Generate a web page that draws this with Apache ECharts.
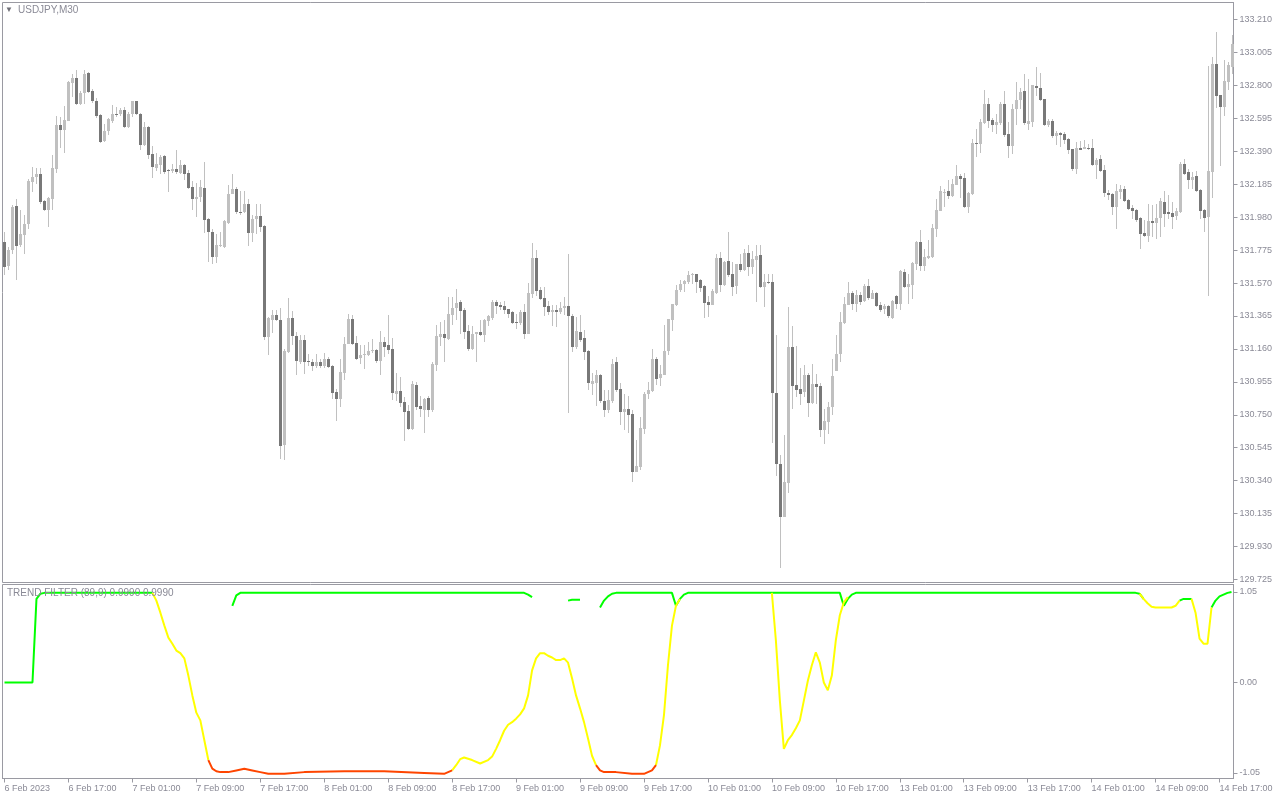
<!DOCTYPE html>
<html><head><meta charset="utf-8">
<script src="https://cdn.jsdelivr.net/npm/echarts@6/dist/echarts.min.js"></script>
<style>html,body{margin:0;padding:0;background:#fff}#c{width:1280px;height:800px}</style>
</head><body><div id="c"></div>
<script>
// ---- data (USDJPY M30, 6 Feb 09:00 .. 14 Feb 18:30) ----
const open = [131.826,131.674,131.774,132.047,131.805,131.867,131.935,132.198,132.229,132.246,132.078,132.022,132.095,132.279,132.551,132.520,132.578,132.814,132.845,132.686,132.752,132.876,132.768,132.700,132.613,132.451,132.516,132.578,132.619,132.619,132.650,132.540,132.619,132.700,132.623,132.426,132.540,132.370,132.288,132.306,132.358,132.273,132.267,132.279,132.254,132.302,132.252,132.167,132.093,132.105,132.161,131.966,131.885,131.732,131.803,131.795,131.945,132.126,132.153,132.012,132.012,132.060,131.883,131.966,131.987,131.925,131.234,131.338,131.369,131.338,130.561,131.141,131.353,131.239,131.079,131.214,131.083,131.077,131.052,131.077,131.052,131.096,131.052,130.891,130.849,131.011,131.193,131.344,131.195,131.102,131.123,131.121,131.148,131.152,131.085,131.201,131.183,131.158,130.878,130.897,130.828,130.774,130.660,130.934,130.803,130.779,130.855,130.779,131.058,131.235,131.251,131.224,131.369,131.415,131.452,131.400,131.270,131.158,131.251,131.264,131.245,131.334,131.353,131.452,131.432,131.425,131.407,131.390,131.326,131.322,131.388,131.251,131.504,131.724,131.525,131.475,131.425,131.390,131.400,131.388,131.413,131.425,131.363,131.172,131.266,131.228,131.148,130.940,130.949,130.996,130.837,130.779,130.837,131.079,130.913,130.768,130.789,130.754,130.395,130.426,130.660,130.878,130.897,131.096,130.978,130.996,131.145,131.338,131.432,131.525,131.562,131.577,131.622,131.624,131.587,131.550,131.452,131.436,131.508,131.724,131.556,131.705,131.624,131.552,131.687,131.649,131.759,131.670,131.716,131.743,131.546,131.575,131.575,130.886,130.443,130.115,130.327,131.172,130.934,130.913,130.893,130.998,130.824,130.944,130.928,130.654,130.706,130.799,131.023,131.131,131.322,131.436,131.508,131.442,131.494,131.456,131.550,131.473,131.508,131.432,131.407,131.425,131.353,131.488,131.438,131.639,131.546,131.556,131.687,131.825,131.676,131.726,131.732,131.904,132.018,132.133,132.141,132.112,132.182,132.234,132.224,132.043,132.122,132.441,132.433,132.566,132.682,132.582,132.551,132.566,132.682,132.495,132.420,132.651,132.707,132.763,132.561,132.572,132.794,132.783,132.713,132.551,132.576,132.485,132.503,132.495,132.464,132.402,132.282,132.408,132.404,132.410,132.408,132.302,132.340,132.271,132.132,132.122,132.043,132.137,132.153,132.085,132.037,132.022,131.975,131.884,131.863,131.954,131.944,131.975,132.074,132.012,132.008,131.985,132.012,132.309,132.261,132.213,132.234,132.147,132.022,131.981,132.261,132.935,132.738,132.665,132.821,132.914];
const high = [131.888,131.795,132.053,132.095,132.022,131.991,132.219,132.292,132.288,132.288,132.084,132.105,132.364,132.607,132.603,132.669,132.826,132.868,132.893,132.768,132.897,132.882,132.779,132.723,132.619,132.557,132.598,132.675,132.665,132.661,132.665,132.634,132.702,132.702,132.627,132.571,132.545,132.420,132.379,132.364,132.364,132.281,132.312,132.399,132.337,132.308,132.271,132.205,132.192,132.209,132.323,131.977,131.908,131.873,131.888,131.960,132.178,132.246,132.167,132.140,132.142,132.095,131.991,132.064,132.064,131.929,131.359,131.400,131.404,131.417,131.162,131.477,131.396,131.266,131.245,131.245,131.131,131.100,131.127,131.100,131.135,131.110,131.058,130.913,131.100,131.235,131.376,131.369,131.239,131.183,131.183,131.204,131.224,131.162,131.270,131.231,131.369,131.228,131.011,130.986,130.862,130.808,130.961,130.955,130.866,130.855,130.866,131.079,131.307,131.328,131.338,131.483,131.483,131.535,131.463,131.417,131.307,131.301,131.266,131.338,131.349,131.369,131.467,131.463,131.452,131.456,131.411,131.396,131.380,131.405,131.438,131.570,131.821,131.774,131.546,131.546,131.459,131.432,131.432,131.452,131.483,131.749,131.380,131.359,131.369,131.280,131.152,131.007,131.027,131.002,130.907,130.907,131.100,131.110,130.949,130.882,130.866,130.779,130.596,130.733,130.893,130.955,131.162,131.110,131.058,131.307,131.349,131.438,131.560,131.591,131.591,131.645,131.633,131.628,131.597,131.556,131.492,131.535,131.753,131.763,131.705,131.888,131.701,131.691,131.749,131.784,131.805,131.769,131.805,131.805,131.628,131.628,131.628,131.245,130.499,130.623,131.421,131.301,131.177,131.038,131.058,131.007,131.069,131.002,130.949,130.783,130.830,131.094,131.245,131.390,131.483,131.577,131.521,131.525,131.514,131.566,131.597,131.525,131.514,131.452,131.438,131.432,131.463,131.494,131.649,131.660,131.628,131.701,131.832,131.898,131.780,131.836,131.940,132.095,132.174,132.157,132.209,132.215,132.302,132.251,132.257,132.137,132.464,132.530,132.588,132.769,132.723,132.597,132.624,132.696,132.765,132.572,132.686,132.821,132.783,132.872,132.841,132.804,132.914,132.877,132.717,132.593,132.593,132.514,132.510,132.510,132.472,132.406,132.448,132.452,132.458,132.437,132.464,132.348,132.369,132.306,132.151,132.130,132.188,132.182,132.174,132.095,132.058,132.033,131.981,131.960,132.064,132.058,132.064,132.099,132.141,132.116,132.074,132.037,132.323,132.344,132.277,132.261,132.267,132.153,132.033,132.920,132.976,133.132,132.742,132.955,132.945,133.111];
const low = [131.618,131.649,131.753,131.587,131.795,131.753,131.908,132.136,132.184,132.064,132.018,131.919,132.022,132.254,132.412,132.379,132.578,132.727,132.681,132.675,132.686,132.752,132.690,132.598,132.441,132.447,132.489,132.565,132.603,132.607,132.534,132.536,132.603,132.613,132.399,132.420,132.343,132.223,132.265,132.250,132.250,132.136,132.256,132.250,132.250,132.209,132.157,132.022,131.981,132.074,131.881,131.701,131.686,131.697,131.795,131.790,131.939,132.126,131.997,131.991,132.008,131.801,131.826,131.877,131.888,131.214,131.120,131.259,131.334,130.475,130.467,131.135,131.183,130.996,131.064,131.006,131.052,131.023,131.038,131.038,131.044,131.044,130.851,130.712,130.799,130.969,131.189,131.183,131.090,131.069,131.032,131.114,131.135,131.073,130.996,131.110,131.131,130.841,130.837,130.799,130.588,130.654,130.654,130.779,130.737,130.638,130.737,130.768,131.023,131.177,131.079,131.214,131.307,131.338,131.255,131.220,131.148,131.156,131.079,131.239,131.204,131.301,131.342,131.380,131.405,131.376,131.355,131.318,131.286,131.307,131.224,131.251,131.477,131.488,131.463,131.363,131.369,131.301,131.297,131.380,131.369,130.758,131.141,131.162,131.204,131.090,130.903,130.872,130.803,130.826,130.737,130.762,130.824,130.893,130.685,130.658,130.638,130.333,130.395,130.406,130.629,130.851,130.893,130.934,130.928,130.996,131.121,131.272,131.425,131.515,131.515,131.566,131.566,131.508,131.515,131.355,131.359,131.432,131.504,131.515,131.550,131.608,131.488,131.500,131.639,131.643,131.612,131.628,131.452,131.541,131.421,131.562,130.575,130.368,129.794,130.111,130.264,130.783,130.862,130.810,130.862,130.737,130.816,130.820,130.613,130.571,130.629,130.748,131.023,131.079,131.318,131.432,131.405,131.390,131.432,131.452,131.467,131.473,131.421,131.390,131.380,131.355,131.349,131.409,131.405,131.541,131.442,131.473,131.653,131.645,131.643,131.722,131.728,131.857,132.016,132.043,132.095,132.105,132.178,132.099,132.037,132.008,132.116,132.354,132.379,132.561,132.534,132.510,132.499,132.551,132.479,132.348,132.375,132.555,132.655,132.555,132.520,132.541,132.734,132.700,132.547,132.541,132.472,132.431,132.416,132.433,132.375,132.265,132.246,132.396,132.402,132.396,132.298,132.215,132.261,132.103,132.085,131.991,131.908,132.091,132.074,132.022,131.971,131.950,131.780,131.857,131.826,131.857,131.842,131.857,131.919,131.966,131.908,131.960,132.008,132.244,132.153,132.157,132.137,131.971,131.888,131.490,132.099,132.661,132.298,132.609,132.769,132.872];
const close = [131.670,131.778,132.043,131.801,131.873,131.939,132.205,132.229,132.246,132.074,132.022,132.099,132.285,132.551,132.520,132.586,132.820,132.845,132.686,132.752,132.872,132.762,132.700,132.607,132.447,132.516,132.590,132.619,132.615,132.650,132.540,132.619,132.700,132.619,132.426,132.540,132.364,132.292,132.308,132.354,132.261,132.269,132.279,132.261,132.302,132.250,132.161,132.091,132.105,132.167,131.960,131.885,131.732,131.805,131.807,131.954,132.126,132.153,132.012,132.006,132.060,131.881,131.966,131.987,131.919,131.234,131.353,131.369,131.338,130.557,131.145,131.353,131.239,131.085,131.214,131.079,131.079,131.052,131.077,131.052,131.100,131.048,130.886,130.849,131.015,131.193,131.344,131.189,131.098,131.121,131.127,131.145,131.152,131.085,131.201,131.172,131.152,130.886,130.897,130.824,130.768,130.660,130.940,130.799,130.785,130.849,130.779,131.065,131.239,131.251,131.228,131.376,131.417,131.446,131.396,131.266,131.158,131.255,131.264,131.245,131.338,131.363,131.452,131.425,131.421,131.405,131.380,131.322,131.322,131.388,131.251,131.508,131.724,131.519,131.471,131.421,131.390,131.400,131.388,131.417,131.425,131.363,131.172,131.270,131.214,131.141,130.949,130.959,130.996,130.837,130.779,130.841,131.065,130.903,130.768,130.789,130.748,130.395,130.430,130.665,130.882,130.903,131.096,130.973,131.002,131.145,131.344,131.438,131.525,131.566,131.583,131.618,131.626,131.577,131.539,131.446,131.436,131.519,131.724,131.556,131.701,131.618,131.546,131.687,131.649,131.759,131.670,131.718,131.738,131.546,131.577,131.570,130.886,130.443,130.115,130.329,131.172,130.930,130.907,130.878,130.998,130.824,130.944,130.924,130.654,130.710,130.799,130.990,131.131,131.328,131.438,131.508,131.438,131.498,131.452,131.550,131.477,131.508,131.425,131.400,131.425,131.363,131.459,131.438,131.643,131.546,131.562,131.695,131.825,131.674,131.732,131.738,131.913,132.022,132.143,132.137,132.112,132.184,132.234,132.215,132.043,132.130,132.441,132.435,132.572,132.682,132.578,132.551,132.572,132.686,132.489,132.423,132.655,132.707,132.758,132.566,132.576,132.800,132.783,132.707,132.551,132.578,132.483,132.503,132.489,132.462,132.396,132.277,132.408,132.400,132.418,132.406,132.302,132.333,132.267,132.130,132.116,132.043,132.143,132.153,132.081,132.033,132.018,131.964,131.873,131.863,131.954,131.944,131.977,132.078,132.002,132.002,131.981,132.016,132.309,132.246,132.209,132.230,132.143,132.018,131.975,132.267,132.935,132.734,132.665,132.825,132.924,133.055];

// trend filter buffers: [barIndex, value]; '-' breaks the line
const tfGreen = [[0,0],[7,0],[8,0.97],[9,1.03],[10,1.04],[37,1.04],[38,'-'],
  [57,0.89],[58,1.01],[59,1.04],[130,1.04],[131,1.02],[132,0.99],[133,'-'],
  [141,0.95],[142,0.96],[144,0.96],[145,'-'],
  [149,0.87],[150,0.95],[151,1.00],[152,1.03],[153,1.04],[167,1.04],[168,0.89],[169,0.97],[170,1.02],[171,1.04],
  [209,1.04],[210,0.89],[211,0.97],[212,1.02],[213,1.04],[283,1.04],[284,1.03],[285,0.97],[286,'-'],
  [294,0.95],[295,0.97],[297,0.97],[298,'-'],
  [302,0.87],[303,0.95],[304,1.00],[305,1.02],[306,1.04],[307,1.05]];
const tfYellow = [[37,1.04],[38,0.95],[39,0.81],[40,0.66],[41,0.52],[42,0.45],[43,0.37],[44,0.34],[45,0.28],[46,0.08],[47,-0.15],[48,-0.35],[49,-0.44],[50,-0.67],[51,-0.90],[52,'-'],
  [112,-1.02],[113,-0.96],[114,-0.89],[115,-0.87],[117,-0.90],[119,-0.94],[121,-0.90],[122,-0.86],[123,-0.77],[124,-0.67],[125,-0.56],[126,-0.49],[127,-0.46],[128,-0.42],[129,-0.37],[130,-0.30],[131,-0.15],[132,0.14],[133,0.28],[134,0.34],[135,0.34],[136,0.31],[137,0.29],[138,0.26],[139,0.26],[140,0.28],[141,0.23],[142,0.05],[143,-0.15],[144,-0.30],[145,-0.46],[146,-0.65],[147,-0.85],[148,-0.96],[149,'-'],
  [163,-0.96],[164,-0.73],[165,-0.38],[166,0.20],[167,0.66],[168,0.89],[169,0.97],[170,'-'],
  [192,1.04],[193,0.49],[194,-0.21],[195,-0.77],[196,-0.67],[197,-0.61],[198,-0.53],[199,-0.44],[200,-0.21],[201,0.02],[202,0.20],[203,0.35],[204,0.23],[205,0.00],[206,-0.09],[207,0.08],[208,0.49],[209,0.78],[210,0.93],[211,0.99],[212,'-'],
  [284,1.03],[285,0.97],[286,0.92],[287,0.88],[288,0.87],[292,0.87],[293,0.89],[294,0.95],[295,'-'],
  [297,0.97],[298,0.81],[299,0.51],[300,0.45],[301,0.45],[302,0.87]];
const tfRed = [[51,-0.90],[52,-1.00],[53,-1.03],[54,-1.04],[56,-1.04],[58,-1.02],[60,-1.00],[62,-1.02],[64,-1.04],[66,-1.06],[70,-1.06],[75,-1.04],[85,-1.03],[95,-1.03],[105,-1.05],[110,-1.06],[112,-1.02],[113,'-'],
  [148,-0.96],[149,-1.02],[150,-1.04],[153,-1.04],[157,-1.06],[160,-1.06],[162,-1.02],[163,-0.96]];

const priceTicks = ['133.210','133.005','132.800','132.595','132.390','132.185','131.980','131.775','131.570','131.365','131.160','130.955','130.750','130.545','130.340','130.135','129.930','129.725'];
const tfTicks = ['1.05','0.00','-1.05'];
const timeTicks = ['6 Feb 2023','6 Feb 17:00','7 Feb 01:00','7 Feb 09:00','7 Feb 17:00','8 Feb 01:00','8 Feb 09:00','8 Feb 17:00','9 Feb 01:00','9 Feb 09:00','9 Feb 17:00','10 Feb 01:00','10 Feb 09:00','10 Feb 17:00','13 Feb 01:00','13 Feb 09:00','13 Feb 17:00','14 Feb 01:00','14 Feb 09:00','14 Feb 17:00'];
const sessions = [['6 Feb',18,48],['7 Feb',0,48],['8 Feb',0,48],['9 Feb',0,48],['10 Feb',0,48],['13 Feb',0,48],['14 Feb',0,38]];

// ---- build ----
const cats = [];
sessions.forEach(([d,a,b]) => { for (let k=a;k<b;k++){ const h=Math.floor(k/2), m=k%2?'30':'00'; cats.push(d+' '+String(h).padStart(2,'0')+':'+m); } });
const ohlc = open.map((o,i)=>[i,o,close[i],low[i],high[i]]);

const FONT = 'Liberation Sans';
const TXT = '#8a8a96';
const BORDER = '#9a9aa2';

const chart = echarts.init(document.getElementById('c'), null, {renderer:'canvas'});
function renderCandle(params, api){
  const i = api.value(0), o = api.value(1), c = api.value(2), l = api.value(3), h = api.value(4);
  const pO = api.coord([i,o]), pC = api.coord([i,c]), pL = api.coord([i,l]), pH = api.coord([i,h]);
  const x = Math.round(pO[0]);
  const top = Math.round(Math.min(pO[1],pC[1])), bot = Math.round(Math.max(pO[1],pC[1]));
  const bull = c >= o;
  return {type:'group', children:[
    {type:'line', shape:{x1:x+0.5,y1:Math.round(pH[1]),x2:x+0.5,y2:Math.round(pL[1])}, style:{stroke:'#c0c0c0',lineWidth:1}},
    {type:'rect', shape:{x:x-1,y:top,width:3,height:Math.max(1,bot-top)}, style:{fill: bull?'#c0c0c0':'#787878'}}
  ]};
}
const axisLblY = {color:TXT, fontFamily:FONT, fontSize:9, margin:6};
chart.setOption({
  animation:false,
  backgroundColor:'#ffffff',
  grid:[
    {left:2.5, top:2.5, width:1231, height:580, show:true, borderColor:BORDER, borderWidth:1},
    {left:2.5, top:584.5, width:1231, height:194, show:true, borderColor:BORDER, borderWidth:1}
  ],
  xAxis:[
    {type:'category', gridIndex:0, data:cats, boundaryGap:true, axisLine:{show:false}, axisTick:{show:false}, axisLabel:{show:false}, splitLine:{show:false}},
    {type:'category', gridIndex:1, data:cats, boundaryGap:true, position:'bottom',
      axisLine:{show:true, onZero:false, lineStyle:{color:BORDER}},
      axisTick:{show:true, interval:15, alignWithLabel:true, length:4, lineStyle:{color:BORDER}},
      axisLabel:{show:true, interval:15, align:'left', margin:6, color:TXT, fontFamily:FONT, fontSize:9,
        formatter:(v,idx)=> (idx%16===0 && timeTicks[idx/16]!==undefined) ? timeTicks[idx/16] : ''},
      splitLine:{show:false}}
  ],
  yAxis:[
    {type:'value', gridIndex:0, position:'right', min:129.706, max:133.316, scale:true,
      axisLine:{show:true, lineStyle:{color:BORDER}}, splitLine:{show:false},
      axisTick:{show:true, length:4, lineStyle:{color:BORDER}, customValues:priceTicks.map(Number)},
      axisLabel:Object.assign({customValues:priceTicks.map(Number), formatter:v=>Number(v).toFixed(3)}, axisLblY)},
    {type:'value', gridIndex:1, position:'right', min:-1.114, max:1.137,
      axisLine:{show:true, lineStyle:{color:BORDER}}, splitLine:{show:false},
      axisTick:{show:true, length:4, lineStyle:{color:BORDER}, customValues:tfTicks.map(Number)},
      axisLabel:Object.assign({customValues:tfTicks.map(Number), formatter:v=>Number(v).toFixed(2)}, axisLblY)}
  ],
  series:[
    {type:'custom', xAxisIndex:0, yAxisIndex:0, data:ohlc, renderItem:renderCandle, encode:{x:0,y:[1,2,3,4]}, clip:true},
    {type:'line', xAxisIndex:1, yAxisIndex:1, data:tfGreen, symbol:'none', connectNulls:false, lineStyle:{color:'#00ff00',width:2}, itemStyle:{color:'#00ff00'}},
    {type:'line', xAxisIndex:1, yAxisIndex:1, data:tfYellow, symbol:'none', connectNulls:false, lineStyle:{color:'#ffff00',width:2}, itemStyle:{color:'#ffff00'}},
    {type:'line', xAxisIndex:1, yAxisIndex:1, data:tfRed, symbol:'none', connectNulls:false, lineStyle:{color:'#ff4500',width:2}, itemStyle:{color:'#ff4500'}}
  ],
  graphic:[
    {type:'text', left:5, top:6, z:100, style:{text:'▼', fill:'#707078', font:'8px "'+FONT+'"'}},
    {type:'text', left:18, top:5, z:100, style:{text:'USDJPY,M30', fill:TXT, font:'10px "'+FONT+'"'}},
    {type:'text', left:7, top:588, z:100, style:{text:'TREND FILTER (89,9) 0.9990 0.9990', fill:TXT, font:'10px "'+FONT+'"'}}
  ]
});
</script>
</body></html>
